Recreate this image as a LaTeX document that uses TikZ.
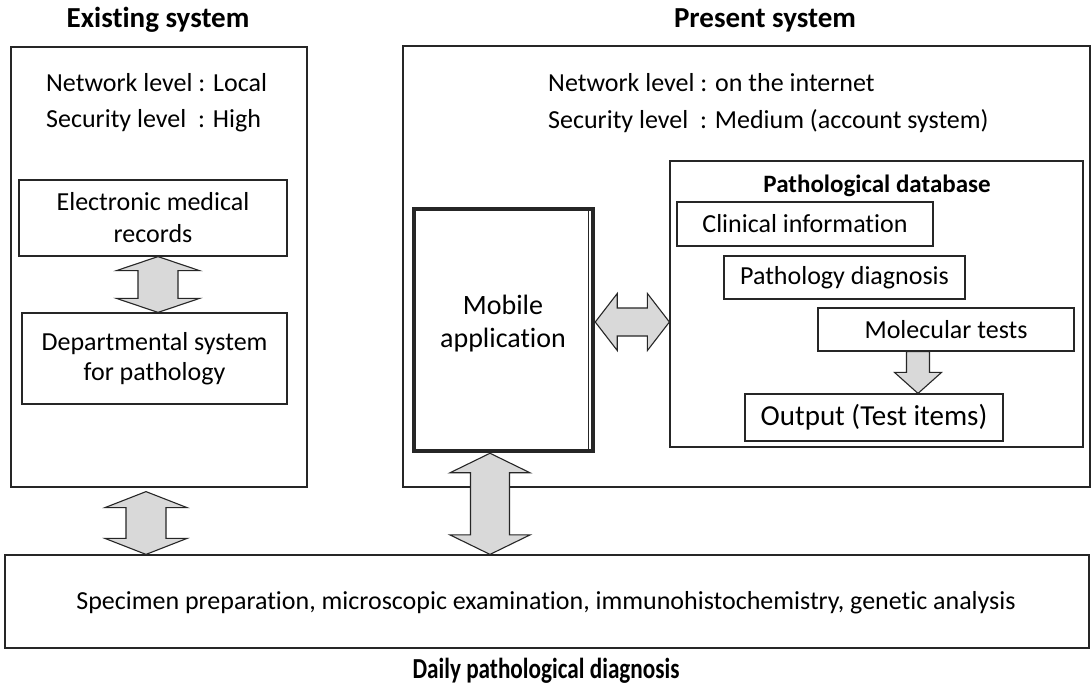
\documentclass[tikz,border=0pt]{standalone}
\usepackage{fontspec}
\setmainfont{Carlito}[Ligatures=NoCommon]
\usetikzlibrary{calc}
\definecolor{PathoLine}{HTML}{262626}
\definecolor{PathoFill}{HTML}{D9D9D9}
\tikzset{
  patho frame/.style={draw=PathoLine, line width=1.2pt, fill=white, inner sep=0pt},
  patho box/.style={
    draw=PathoLine, line width=1.2pt, fill=white, inner sep=0pt,
    align=center, font=\fontsize{26}{32}\selectfont
  },
  patho text/.style={inner sep=0pt, font=\fontsize{26}{30}\selectfont},
  patho title/.style={inner sep=0pt, font=\bfseries\fontsize{29}{32}\selectfont},
  patho fat/.style={draw=PathoLine, line width=1.1pt, fill=PathoFill, line join=miter}
}
% double block arrow, top tip #1 to bottom tip #2
\newcommand{\vfat}[5]{%
  \draw[patho fat] let \p1=(#1), \p2=(#2) in
    (\x1,\y1) -- ({\x1+#4pt},{\y1-#5pt}) -- ({\x1+#3pt},{\y1-#5pt})
    -- ({\x1+#3pt},{\y2+#5pt}) -- ({\x1+#4pt},{\y2+#5pt}) -- (\x1,\y2)
    -- ({\x1-#4pt},{\y2+#5pt}) -- ({\x1-#3pt},{\y2+#5pt})
    -- ({\x1-#3pt},{\y1-#5pt}) -- ({\x1-#4pt},{\y1-#5pt}) -- cycle;}
% double block arrow, left tip #1 to right tip #2
\newcommand{\hfat}[5]{%
  \draw[patho fat] let \p1=(#1), \p2=(#2) in
    (\x1,\y1) -- ({\x1+#5pt},{\y1+#4pt}) -- ({\x1+#5pt},{\y1+#3pt})
    -- ({\x2-#5pt},{\y1+#3pt}) -- ({\x2-#5pt},{\y1+#4pt}) -- (\x2,\y1)
    -- ({\x2-#5pt},{\y1-#4pt}) -- ({\x2-#5pt},{\y1-#3pt})
    -- ({\x1+#5pt},{\y1-#3pt}) -- ({\x1+#5pt},{\y1-#4pt}) -- cycle;}
% single block arrow pointing down, shaft top #1 to tip #2
\newcommand{\dfat}[5]{%
  \draw[patho fat] let \p1=(#1), \p2=(#2) in
    ({\x1-#3pt},\y1) -- ({\x1+#3pt},\y1) -- ({\x1+#3pt},{\y2+#5pt})
    -- ({\x1+#4pt},{\y2+#5pt}) -- (\x1,\y2) -- ({\x1-#4pt},{\y2+#5pt})
    -- ({\x1-#3pt},{\y2+#5pt}) -- cycle;}

\begin{document}
\begin{tikzpicture}[x=1pt, y=-1pt]
  \fill[white] (0,0) rectangle (1091,691);
  \useasboundingbox (0,0) rectangle (1091,691);

  \node[patho title] (existtitle) at (158,20) {Existing system};
  \node[patho title] (presenttitle) at (765,20) {Present system};
  \node[patho title, xscale=0.8] (dailytitle) at (546,671) {Daily pathological diagnosis};

  \node[patho frame, minimum width=296, minimum height=440] (existing) at (159,267) {};
  \node[patho frame, minimum width=687, minimum height=441] (present) at (746.5,266.5) {};
  \node[patho frame, minimum width=1084, minimum height=93] (daily) at (547,601.5) {};

  \node[patho text, anchor=west] (exnet) at (46,83) {Network level : Local};
  \node[patho text, anchor=west] (exsec) at (46,121) {Security level\ \ : High};
  \node[patho text, anchor=west] (prnet) at (548,83) {Network level : on the internet};
  \node[patho text, anchor=west] (prsec) at (548,121) {Security level\ \ : Medium (account system)};

  \node[patho box, minimum width=268, minimum height=76] (emr) at (153,218)
    {Electronic medical\\records};
  \node[patho box, minimum width=265, minimum height=91,
    font=\fontsize{26}{30}\selectfont] (dept) at (154.5,358.5)
    {Departmental system\\for pathology};

  \node[patho frame, line width=4.5pt, minimum width=179, minimum height=242] (mobile)
    at (503.5,330) {};
  \draw[PathoLine, line width=0.8pt] ($(mobile.north west)+(3,3)$)
    rectangle ($(mobile.south east)+(-7,-4)$);
  \node[patho text, align=center, font=\fontsize{28}{33}\selectfont] (mobiletext)
    at (503,324) {Mobile\\application};

  \node[patho frame, minimum width=413, minimum height=286] (db) at (876.5,304) {};
  \node[patho text, font=\bfseries\fontsize{25}{28}\selectfont] (dbtitle) at (877,186)
    {Pathological database};
  \node[patho box, minimum width=256, minimum height=44] (clinical) at (805,224)
    {Clinical information};
  \node[patho box, minimum width=241, minimum height=43] (pathdx) at (844.5,277.5)
    {Pathology diagnosis};
  \node[patho box, minimum width=256, minimum height=43] (molec) at (946,329.5)
    {Molecular tests};
  \node[patho box, minimum width=258, minimum height=47,
    font=\fontsize{29}{32}\selectfont] (output) at (874,417.5) {Output (Test items)};

  \node[patho text] (specimen) at (546,603)
    {Specimen preparation, microscopic examination, immunohistochemistry, genetic analysis};

  \coordinate (emrlink) at (158,0);
  \coordinate (leftlink) at (146,0);
  \coordinate (midlink) at (490,0);
  \coordinate (applink) at (0,322);
  \coordinate (testlink) at (918,0);

  \vfat{emr.south -| emrlink}{dept.north -| emrlink}{20}{41.5}{14}
  \vfat{$(existing.south -| leftlink)+(0,4)$}{daily.north -| leftlink}{20}{41}{16}
  \vfat{mobile.south -| midlink}{daily.north -| midlink}{19.5}{40}{19.5}
  \hfat{mobile.east |- applink}{db.west |- applink}{14}{28.5}{22}
  \dfat{molec.south -| testlink}{output.north -| testlink}{11.5}{23.5}{21}
\end{tikzpicture}
\end{document}
